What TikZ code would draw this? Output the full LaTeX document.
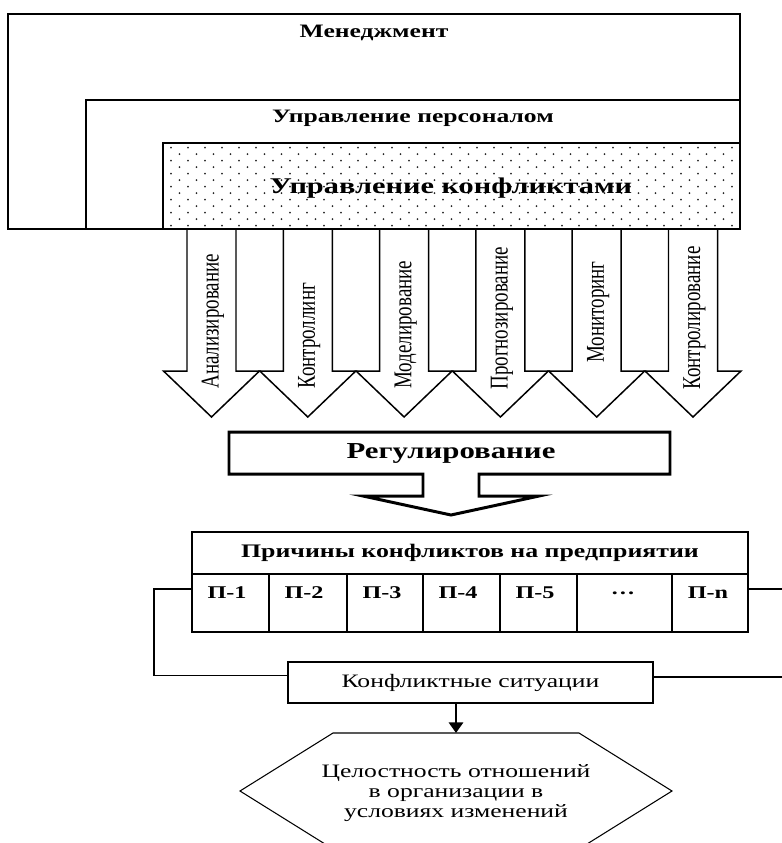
\documentclass[tikz,border=0pt]{standalone}
\usepackage{fontspec}
\setmainfont{Liberation Serif}[FakeStretch=1.35]
\newfontfamily\tallfont{Liberation Serif}[FakeStretch=0.74]
\usepackage{tikz}
\usetikzlibrary{arrows.meta}

\begin{document}
\begin{tikzpicture}[x=0.02cm, y=-0.02cm,
    frame/.style={draw, line width=0.85pt},
    thickframe/.style={draw, line width=1.7pt},
    dotc/.style={fill=black!85},
    head/.style={font=\bfseries\fontsize{10.8}{13}\selectfont},
    bighead/.style={font=\bfseries\fontsize{12.8}{15}\selectfont},
    vlabel/.style={rotate=90, anchor=west, inner sep=0pt, font=\tallfont\fontsize{14.6}{16}\selectfont},
    cell/.style={font=\bfseries\fontsize{10.2}{12}\selectfont},
    plain/.style={font=\fontsize{10.8}{11.3}\selectfont, align=center},
    flow/.style={-{Triangle[width=8pt,length=6pt]}, line width=1.5pt}]
    \clip (0,0) rectangle (782,843);

    \draw[frame] (8,14) rectangle (740,229);
    \draw[frame] (86,100) rectangle (740,229);
    \foreach \r in {0,...,12} {
        \pgfmathsetmacro\yy{147.7+6.5*\r}
        \pgfmathsetmacro\off{mod(\r,2)*8.5}
        \pgfmathtruncatemacro\ncol{33-mod(\r,2)}
        \foreach \c in {0,...,\ncol}
            \fill[dotc] (171+17*\c+\off, \yy) circle (0.55pt);
    }
    \draw[frame] (163,143) rectangle (740,229);
    \node[head] at (374,33) (mgmt) {Менеджмент};
    \node[head] at (413,118) (staff) {Управление персоналом};
    \node[bighead] at (451,188) (confl) {Управление конфликтами};

    \foreach \lbl/\ys [count=\i from 0] in {Анализирование/389, Контроллинг/389,
        Моделирование/389, Прогнозирование/390, Мониторинг/363, Контролирование/390} {
        \pgfmathsetmacro\cx{211.5+96.3*\i}
        \draw[frame] (\cx-24.5,229) -- (\cx-24.5,371) -- (\cx-48,371) -- (\cx,417)
            -- (\cx+48,371) -- (\cx+24.5,371) -- (\cx+24.5,229);
        \node[vlabel] at (\cx+1.5,\ys) (tool\i) {\lbl};
    }

    \draw[thickframe, line join=miter] (229,432) -- (670,432) -- (670,474) -- (479,474)
        -- (479,496) -- (539,496) -- (451,515) -- (363,496) -- (423,496)
        -- (423,474) -- (229,474) -- cycle;
    \node[bighead, font=\bfseries\fontsize{13}{15}\selectfont] at (451,453) (reg) {Регулирование};

    \draw[frame] (192,532) rectangle (748,632);
    \draw[frame] (192,574) -- (748,574);
    \foreach \x in {269,347,423,500,577}
        \draw[frame] (\x,574) -- (\x,632);
    \draw[thickframe] (672,574) -- (672,632);
    \node[font=\bfseries\fontsize{10.9}{13}\selectfont] at (470,553) (causes) {Причины конфликтов на предприятии};
    \foreach \t/\x [count=\i] in {П-1/227, П-2/304, П-3/382, П-4/458, П-5/535, …/623, П-n/708}
        \node[cell] at (\x,593) (p\i) {\t};

    \node[frame, minimum width=7.3cm, minimum height=0.82cm, plain] at (470.5,682.5) (sit) {Конфликтные ситуации};
    \coordinate (tabL) at (192,589);
    \coordinate (tabR) at (748,589);
    \coordinate (bendL) at (154,589);
    \coordinate (bendR) at (795,589);
    \draw[frame] (tabL) -- (bendL) |- ([yshift=4pt]sit.west);
    \draw[frame] (tabR) -- (bendR) |- ([yshift=3pt]sit.east);

    \draw[line width=0.6pt] (333,733) -- (579,733) -- (672,791) -- (579,849) -- (333,849) -- (240,791) -- cycle;
    \node[plain] at (456,793) (goal) {Целостность отношений\\в организации в\\условиях изменений};
    \coordinate (goaltop) at (456,733);
    \draw[flow] (sit.south -| goaltop) -- (goaltop);
\end{tikzpicture}
\end{document}
